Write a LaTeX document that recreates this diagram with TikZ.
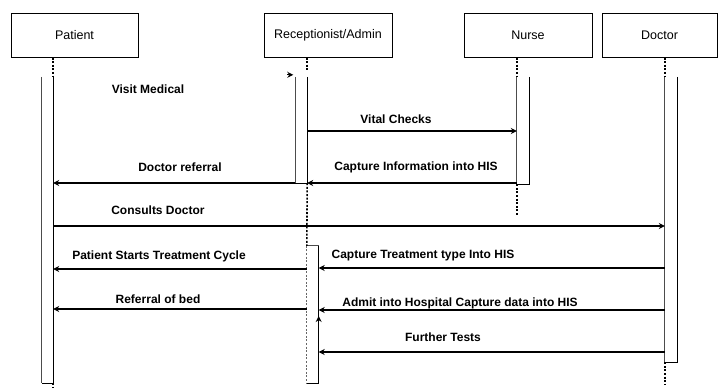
\documentclass[tikz,border=0pt]{standalone}
\usepackage{fontspec}
\setmainfont{Liberation Sans}
\usetikzlibrary{arrows.meta,calc}
\begin{document}
\begin{tikzpicture}[x=1pt,y=-1pt,
  actor/.style={draw=black, line width=1pt, minimum height=44pt, inner sep=0pt,
                font=\fontsize{12.5}{14}\selectfont},
  bar/.style={draw=none, fill=white, inner sep=0pt},
  baredge/.style={draw=black!70, line width=0.7pt},
  barshade/.style={draw=black, line width=1.4pt},
  life/.style={draw=black, line width=1.6pt, dash pattern=on 2pt off 1.6pt},
  lifethin/.style={draw=black!60, line width=0.7pt, dash pattern=on 2pt off 1.6pt},
  msg/.style={draw=black, line width=1.2pt, -{Stealth[length=6pt,width=6pt]}},
  lbl/.style={font=\fontsize{12}{14}\selectfont\bfseries, inner sep=0pt}
]
\useasboundingbox (0,0) rectangle (719,388);

% participants
\node[actor, minimum width=127pt] (patient) at (74.5,35) {Patient};
\node[actor, minimum width=128pt] (recep)   at (328,35)  {Receptionist/Admin};
\node[actor, minimum width=128pt] (nurse)   at (528,35)  {Nurse};
\node[actor, minimum width=115pt] (doctor)  at (659.5,35) {Doctor};

% activation bars (open at the top)
\node[bar, minimum width=11pt,   minimum height=306pt] (pbar)  at (47.5,230)  {};
\node[bar, minimum width=11.5pt, minimum height=106pt] (rbar1) at (301.25,130) {};
\node[bar, minimum width=11.5pt, minimum height=137pt] (rbar2) at (312.75,314.5) {};
\node[bar, minimum width=12pt,   minimum height=107pt] (nbar)  at (523,130.5) {};
\node[bar, minimum width=12pt,   minimum height=285pt] (dbar)  at (671,219.5) {};

% left edges thin, right and bottom edges heavy
\foreach \b in {pbar,rbar1,nbar,dbar}
  \draw[baredge] (\b.north west) -- (\b.south west);
\draw[lifethin] (rbar2.north west) -- (rbar2.south west);
\draw[baredge] (rbar2.north west) -- (rbar2.north east);
\foreach \b in {pbar,rbar1,rbar2,nbar,dbar}
  \draw[barshade] (\b.north east) -- (\b.south east) -- (\b.south west);

% lifelines
\draw[life] (patient.south -| pbar.east) -- (pbar.north east);
\draw[life] (pbar.south east) -- ++(0,5);
\draw[life] (recep.south -| rbar1.east) -- ($(rbar1.north east)+(0,-5)$);
\draw[life] (rbar1.south east) -- (rbar2.north west);
\draw[life] (nurse.south -| nbar.west) -- (nbar.north west);
\draw[life] (nbar.south west) -- ++(0,31);
\draw[life] (doctor.south -| dbar.west) -- (dbar.north west);
\draw[life] (dbar.south west) -- ++(0,23);

% messages
\draw[msg] ($(rbar1.north west)+(-8,-2)$) -- ($(rbar1.north west)+(-2,-2)$);
\node[lbl] (l1) at (148,89) {Visit Medical};

\draw[msg] (rbar1.east |- 0,131) -- (nbar.west |- 0,131);
\node[lbl] (l2) at (396,119) {Vital Checks};

\draw[msg] (nbar.west |- 0,183) -- (rbar1.east |- 0,183);
\node[lbl] (l3) at (416,167) {Capture Information into HIS};

\draw[msg] (rbar1.west |- 0,183) -- (pbar.east |- 0,183);
\node[lbl] (l4) at (180,167) {Doctor referral};

\draw[msg] (pbar.east |- 0,226) -- (dbar.west |- 0,226);
\node[lbl] (l5) at (158,210) {Consults Doctor};

\draw[msg] (rbar2.west |- 0,269) -- (pbar.east |- 0,269);
\node[lbl] (l6) at (159,256) {Patient Starts Treatment Cycle};

\draw[msg] (dbar.west |- 0,268) -- (rbar2.east |- 0,268);
\node[lbl] (l7) at (423,256) {Capture Treatment type Into HIS};

\draw[msg] (rbar2.west |- 0,309) -- (pbar.east |- 0,309);
\node[lbl] (l8) at (158,299) {Referral of bed};

\draw[msg] (dbar.west |- 0,310) -- (rbar2.east |- 0,310);
\node[lbl] (l9) at (460,303) {Admit into Hospital Capture data into HIS};

\draw[msg] (rbar2.south east) -- (rbar2.east |- 0,316);

\draw[msg] (dbar.west |- 0,352) -- (rbar2.east |- 0,352);
\node[lbl] (l10) at (443,337) {Further Tests};
\end{tikzpicture}
\end{document}
